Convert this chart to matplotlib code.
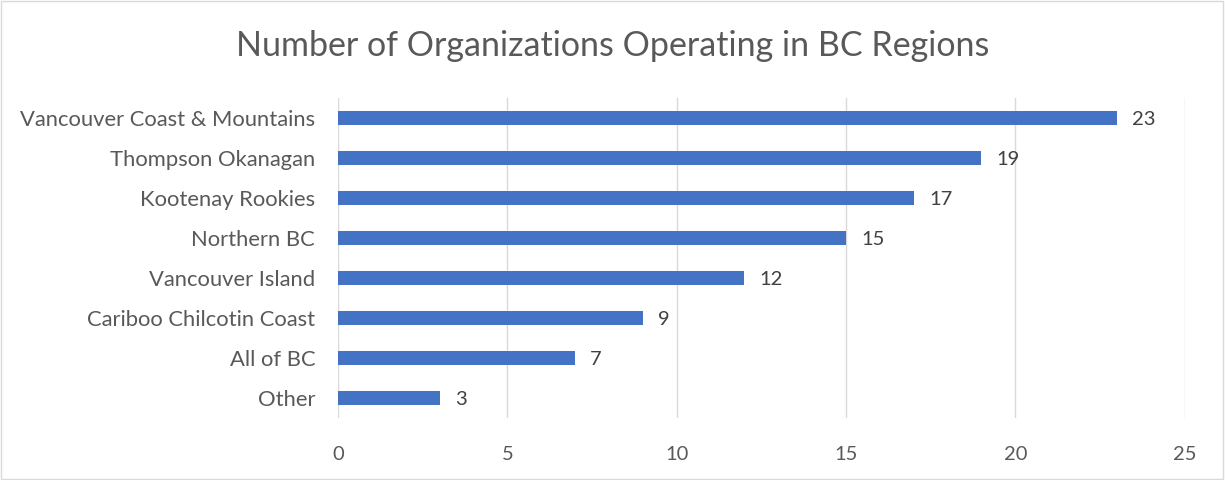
import matplotlib
matplotlib.use("Agg")
import matplotlib.pyplot as plt
from matplotlib.patches import Rectangle

regions = [
    "Vancouver Coast & Mountains",
    "Thompson Okanagan",
    "Kootenay Rookies",
    "Northern BC",
    "Vancouver Island",
    "Cariboo Chilcotin Coast",
    "All of BC",
    "Other",
]
counts = [23, 19, 17, 15, 12, 9, 7, 3]
x_ticks = [0, 5, 10, 15, 20, 25]

plt.rcParams["font.family"] = ["Lato", "DejaVu Sans"]

fig = plt.figure(figsize=(12.25, 4.8), dpi=100)
ax = fig.add_axes([0.276, 0.129, 0.691, 0.667])

positions = list(range(len(regions)))
ax.barh(positions, counts, height=0.36, color="#4472C4", zorder=3)
for pos, val in zip(positions, counts):
    ax.text(val + 0.45, pos + 0.03, str(val), va="center", ha="left",
            fontsize=14.5, color="#404040")

ax.set_yticks(positions)
ax.set_yticklabels(regions, fontsize=15.8, color="#595959")
ax.set_ylim(len(regions) - 0.5, -0.5)
ax.set_xlim(0, 25)
ax.set_xticks(x_ticks)
ax.set_xticklabels([str(t) for t in x_ticks], fontsize=14.5, color="#595959")
ax.tick_params(length=0)
ax.tick_params(axis="y", pad=16.5)
ax.tick_params(axis="x", pad=20)
ax.grid(axis="x", color="#D9D9D9", linewidth=1, zorder=0)
for side in ("top", "right", "bottom", "left"):
    ax.spines[side].set_visible(False)

fig.text(0.5, 0.905, "Number of Organizations Operating in BC Regions",
         ha="center", va="center", fontsize=24.5, color="#595959")

fig.patches.append(Rectangle((0.001, 0.002), 0.997, 0.996, transform=fig.transFigure,
                             fill=False, edgecolor="#D9D9D9", linewidth=1))

fig.savefig("out.png", dpi=100)
